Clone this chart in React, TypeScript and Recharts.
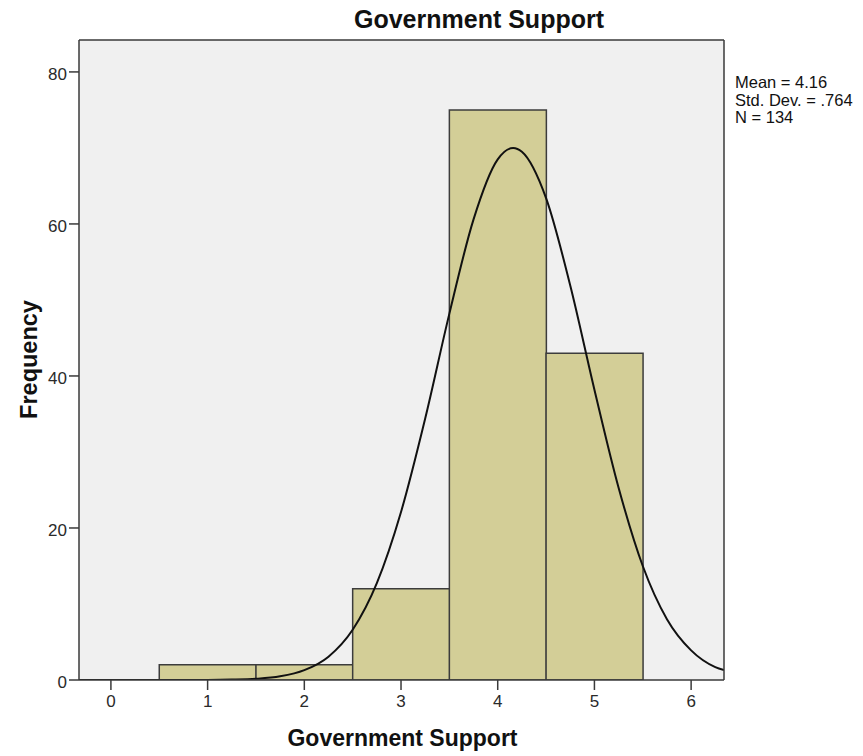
import React from "react";
import {
  ComposedChart,
  Bar,
  Line,
  XAxis,
  YAxis,
  CartesianGrid,
  ReferenceLine,
} from "recharts";

// ---- data ----
const binCenters = [1, 2, 3, 4, 5];
const frequencies = [2, 2, 12, 75, 43];

const curveX = [
  -0.33, 0.5, 1.0, 1.25, 1.5, 1.75, 2.0, 2.25, 2.5, 2.75, 3.0, 3.25, 3.5, 3.75,
  4.0, 4.16, 4.25, 4.5, 4.75, 5.0, 5.25, 5.5, 5.75, 6.0, 6.25, 6.34,
];
const curveY = [
  0, 0, 0.01, 0.05, 0.16, 0.48, 1.29, 3.07, 6.61, 12.74, 22.1, 34.4, 48.2, 60.6,
  68.5, 70.0, 69.5, 63.4, 51.9, 38.2, 25.3, 15.0, 8.0, 3.9, 1.7, 1.3,
];

const xTicks = [0, 1, 2, 3, 4, 5, 6];
const yTicks = [0, 20, 40, 60, 80];

const titleText = "Government Support";
const xLabelText = "Government Support";
const yLabelText = "Frequency";
const statsLines = ["Mean = 4.16", "Std. Dev. = .764", "N = 134"];

const X_MIN = -0.33;
const X_MAX = 6.34;
const Y_MIN = 0;
const Y_MAX = 84.2;

// ---- tables built from the arrays ----
const barData = binCenters.map((x, i) => ({ x, freq: frequencies[i] }));
const curveData = curveX.map((x, i) => ({ x, curve: curveY[i] }));

const W = 863;
const H = 756;
const FONT = "'Liberation Sans', Arial, sans-serif";
const AXIS_COLOR = "#3a3a3a";

export default function App() {
  return (
    <div style={{ position: "absolute", left: 0, top: 0, width: W, height: H }}>
      <ComposedChart
        width={W}
        height={H}
        data={barData}
        margin={{ top: 40, right: 139, bottom: 0, left: 0 }}
        barCategoryGap={0}
        barGap={0}
      >
        <CartesianGrid
          fill="#F0F0F0"
          horizontal={false}
          vertical={false}
          stroke="none"
        />
        <XAxis
          dataKey="x"
          type="number"
          domain={[X_MIN, X_MAX]}
          allowDataOverflow
          ticks={xTicks}
          interval={0}
          height={76}
          tickSize={10}
          tickMargin={5}
          axisLine={{ stroke: AXIS_COLOR, strokeWidth: 1.5 }}
          tickLine={{ stroke: AXIS_COLOR, strokeWidth: 1.5 }}
          tick={{ fontSize: 17, fill: "#2a2a2a", fontFamily: FONT }}
        />
        <XAxis
          xAxisId="curve"
          dataKey="x"
          type="number"
          domain={[X_MIN, X_MAX]}
          allowDataOverflow
          hide
        />
        <YAxis
          type="number"
          domain={[Y_MIN, Y_MAX]}
          allowDataOverflow
          ticks={yTicks}
          interval={0}
          width={79}
          tickSize={10}
          tickMargin={2}
          axisLine={{ stroke: AXIS_COLOR, strokeWidth: 1.5 }}
          tickLine={{ stroke: AXIS_COLOR, strokeWidth: 1.5 }}
          tick={{ fontSize: 17, fill: "#2a2a2a", fontFamily: FONT, dy: 2 }}
        />
        <Bar
          dataKey="freq"
          fill="#D3CE97"
          stroke="#3c3c3c"
          strokeWidth={1.5}
          isAnimationActive={false}
        />
        <Line
          xAxisId="curve"
          data={curveData}
          dataKey="curve"
          type="monotone"
          stroke="#111111"
          strokeWidth={2}
          dot={false}
          activeDot={false}
          isAnimationActive={false}
        />
        <ReferenceLine y={Y_MAX} stroke={AXIS_COLOR} strokeWidth={1.5} />
        <ReferenceLine x={X_MAX} stroke={AXIS_COLOR} strokeWidth={1.5} />
      </ComposedChart>
      <svg
        width={W}
        height={H}
        style={{ position: "absolute", left: 0, top: 0, pointerEvents: "none" }}
      >
        <text
          x={479}
          y={28}
          textAnchor="middle"
          fontFamily={FONT}
          fontWeight="bold"
          fontSize={25}
          fill="#111"
        >
          {titleText}
        </text>
        <text
          x={402.5}
          y={746}
          textAnchor="middle"
          fontFamily={FONT}
          fontWeight="bold"
          fontSize={23}
          fill="#111"
        >
          {xLabelText}
        </text>
        <text
          x={37}
          y={359.5}
          textAnchor="middle"
          fontFamily={FONT}
          fontWeight="bold"
          fontSize={23.5}
          fill="#111"
          transform="rotate(-90, 37, 359.5)"
        >
          {yLabelText}
        </text>
        {statsLines.map((s, i) => (
          <text
            key={s}
            x={735}
            y={88 + i * 17.5}
            fontFamily={FONT}
            fontSize={16.5}
            fill="#111"
          >
            {s}
          </text>
        ))}
      </svg>
    </div>
  );
}
